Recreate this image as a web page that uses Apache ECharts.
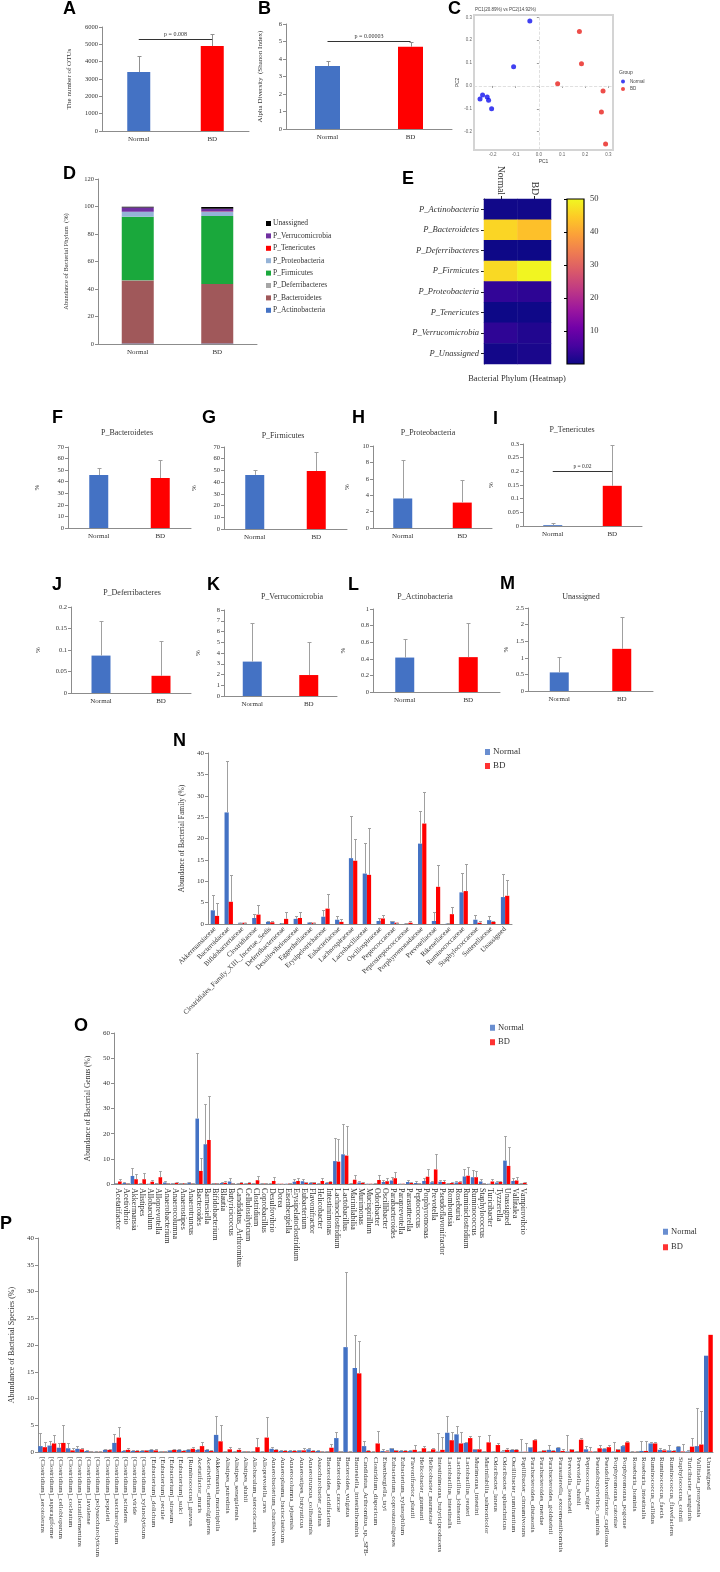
<!DOCTYPE html>
<html><head><meta charset="utf-8">
<script src="https://cdn.jsdelivr.net/npm/echarts@6/dist/echarts.min.js"></script>
<style>html,body{margin:0;padding:0;background:#fff}#c{width:720px;height:1572px}</style>
</head><body><div id="c"></div>
<script>
// ---------------- DATA ----------------
const groups = ['Normal', 'BD'];
const otuMean = [3400, 4900];
const otuSd = [950, 700];
const shannonMean = [3.6, 4.7];
const shannonSd = [0.3, 0.25];

const pcaNormalX = [-0.039, -0.109, -0.254, -0.243, -0.223, -0.217, -0.204];
const pcaNormalY = [0.284, 0.084, -0.057, -0.040, -0.048, -0.063, -0.100];
const pcaBDX = [0.175, 0.184, 0.081, 0.277, 0.270, 0.288];
const pcaBDY = [0.238, 0.097, 0.010, -0.022, -0.114, -0.254];

const phyla = ['P_Actinobacteria', 'P_Bacteroidetes', 'P_Deferribacteres', 'P_Firmicutes', 'P_Proteobacteria', 'P_Tenericutes', 'P_Verrucomicrobia', 'Unassigned'];
const phylumNormal = [0.415, 45.8, 0.087, 46.2, 3.6, 0.003, 3.2, 0.56];
const phylumBD = [0.42, 43.2, 0.04, 49.5, 3.1, 0.147, 1.95, 1.27];
const phylumNormalSd = [0.225, 6.2, 0.081, 4.3, 4.7, 0.009, 3.55, 0.47];
const phylumBDSd = [0.41, 15.3, 0.08, 16.0, 2.7, 0.15, 3.05, 0.95];
const heatRows = ['P_Actinobacteria', 'P_Bacteroidetes', 'P_Deferribacteres', 'P_Firmicutes', 'P_Proteobacteria', 'P_Tenericutes', 'P_Verrucomicrobia', 'P_Unassigned'];

const families = ['Akkermansiaceae', 'Bacteroidaceae', 'Bifidobacteriaceae', 'Clostridiaceae', 'Clostridiales_Family_XIII._Incertae_Sedis', 'Deferribacteraceae', 'Desulfovibrionaceae', 'Eggerthellaceae', 'Erysipelotrichaceae', 'Eubacteriaceae', 'Lachnospiraceae', 'Lactobacillaceae', 'Oscillospiraceae', 'Peptococcaceae', 'Peptostreptococcaceae', 'Porphyromonadaceae', 'Prevotellaceae', 'Rikenellaceae', 'Ruminococcaceae', 'Staphylococcaceae', 'Sutterellaceae', 'Unassigned'];
const famNormal = [3.2, 26.1, 0.3, 1.4, 0.5, 0.2, 1.2, 0.35, 1.7, 1.0, 15.4, 11.8, 0.7, 0.7, 0.1, 18.8, 0.7, 0.1, 7.4, 1.0, 0.9, 6.3];
const famNormalSd = [3.5, 12.0, 0.05, 0.9, 0.3, 0.05, 0.6, 0.05, 1.5, 0.8, 9.8, 7.2, 0.6, 0.1, 0.05, 7.6, 2.1, 0.05, 4.5, 1.0, 0.9, 5.5];
const famBD = [1.9, 5.2, 0.3, 2.2, 0.4, 1.2, 1.4, 0.3, 3.6, 0.5, 14.8, 11.5, 1.3, 0.3, 0.3, 23.5, 8.7, 2.3, 7.7, 0.3, 0.5, 6.6];
const famBDSd = [3.1, 6.3, 0.05, 2.2, 0.3, 1.5, 1.3, 0.05, 3.4, 0.6, 5.2, 11.0, 0.9, 0.05, 0.3, 7.4, 5.0, 1.6, 6.4, 0.3, 0.3, 3.6];

const genera = ['Acetatifactor', 'Acetivibrio', 'Akkermansia', 'Alistipes', 'Allobaculum', 'Alloprevotella', 'Anaerobacterium', 'Anaerocolumna', 'Anaerostipes', 'Anaerotruncus',
  'Bacteroides', 'Barnesiella', 'Bifidobacterium', 'Blautia', 'Butyricicoccus', 'Candidatus_Arthromitus', 'Cellulosilyticum', 'Clostridium', 'Coprobacillus', 'Desulfovibrio',
  'Dorea', 'Eisenbergiella', 'Erysipelatoclostridium', 'Eubacterium', 'Flavonifractor', 'Helicobacter', 'Intestinimonas', 'Lachnoclostridium', 'Lactobacillus', 'Marinilabilia',
  'Murimonas', 'Mucispirillum', 'Odoribacter', 'Oscillibacter', 'Parabacteroides', 'Paraprevotella', 'Parasutterella', 'Peptococcus', 'Porphyromonas', 'Prevotella',
  'Pseudoflavonifractor', 'Romboutsia', 'Roseburia', 'Ruminiclostridium', 'Ruminococcus', 'Staphylococcus', 'Turicibacter', 'Tyzzerella', 'Unassigned', 'Vallitalea',
  'Vampirovibrio'];
const genusNormal = [0.3, 0.4, 3.2, 0.2, 0.1, 0.3, 0.6, 0.3, 0.3, 0.6,
  26.0, 15.8, 0.3, 0.4, 1.0, 0.1, 0.2, 0.3, 0.2, 0.1,
  0.1, 0.1, 0.9, 1.1, 0.5, 0.2, 0.5, 9.1, 11.8, 0.2,
  0.6, 0.1, 0.2, 0.8, 1.4, 0.1, 0.8, 0.4, 1.2, 0.7,
  0.9, 0.3, 0.6, 3.0, 2.7, 1.0, 0.1, 0.6, 9.3, 1.2,
  0.2];
const genusNormalSd = [0.2, 0.2, 3.2, 0.1, 0.05, 0.1, 0.5, 0.2, 0.1, 0.3,
  26.2, 16.0, 0.1, 0.2, 1.2, 0.1, 0.1, 0.2, 0.1, 0.1,
  0.05, 0.05, 0.9, 0.7, 0.2, 0.1, 0.2, 9.1, 12.0, 0.1,
  0.4, 0.05, 0.1, 0.7, 1.4, 0.05, 0.8, 0.6, 1.1, 0.4,
  0.6, 0.1, 0.6, 2.9, 2.9, 1.0, 0.05, 0.6, 9.6, 1.0,
  0.1];
const genusBD = [1.0, 0.2, 1.9, 1.9, 0.9, 2.7, 0.3, 0.5, 0.3, 0.2,
  5.2, 17.5, 0.3, 0.5, 0.3, 0.4, 0.4, 1.5, 0.2, 1.2,
  0.1, 0.2, 1.2, 0.6, 0.6, 1.2, 0.8, 8.9, 11.3, 1.7,
  0.5, 0.1, 1.6, 1.1, 2.3, 0.1, 0.4, 0.2, 2.9, 5.8,
  0.8, 0.4, 0.7, 3.3, 2.7, 0.2, 1.0, 0.8, 7.2, 1.4,
  0.5];
const genusBDSd = [1.0, 0.1, 2.0, 2.4, 0.8, 2.6, 0.2, 0.2, 0.1, 0.1,
  5.1, 17.5, 0.1, 0.6, 0.2, 0.2, 0.2, 1.7, 0.1, 1.5,
  0.05, 0.1, 1.0, 0.3, 0.2, 1.1, 0.4, 9.0, 11.7, 1.9,
  0.3, 0.05, 1.9, 1.2, 2.5, 0.05, 0.5, 0.1, 2.9, 6.0,
  0.6, 0.2, 0.4, 3.4, 2.6, 0.1, 0.9, 0.2, 7.5, 1.5,
  0.3];

const species = ['[Clostridium]_aerotolerans', '[Clostridium]_asparagiforme', '[Clostridium]_cellobioparum', '[Clostridium]_cocleatum', '[Clostridium]_lactatifermentans', '[Clostridium]_lavalense', '[Clostridium]_polysaccharolyticum', '[Clostridium]_populeti', '[Clostridium]_saccharolyticum', '[Clostridium]_scindens',
  '[Clostridium]_viride', '[Clostridium]_xylanolyticum', '[Eubacterium]_dolichum', '[Eubacterium]_rectale', '[Eubacterium]_siraeum', '[Eubacterium]_sulci', '[Ruminococcus]_gnavus', 'Acetatifactor_muris', 'Acetivibrio_ethanolgignens', 'Akkermansia_muciniphila',
  'Alistipes_putredinis', 'Alistipes_senegalensis', 'Alistipes_shahii', 'Allobaculum_stercoricanis', 'Alloprevotella_rava', 'Anaerobacterium_chartisolvens', 'Anaeroplasma_bactoclasticum', 'Anaerocolumna_jejuensis', 'Anaerostipes_butyraticus', 'Anaerotruncus_colihominis',
  'Asaccharobacter_celatus', 'Bacteroides_acidifaciens', 'Bacteroides_caccae', 'Bacteroides_vulgatus', 'Barnesiella_intestinihominis', 'Candidatus_Arthromitus_sp._SFB-', 'Clostridium_disporicum', 'Eisenbergiella_tayi', 'Eubacterium_coprostanoligenes', 'Eubacterium_xylanophilum',
  'Flavonifractor_plautii', 'Helicobacter_ganmani', 'Helicobacter_marmotae', 'Intestinimonas_butyriciproducens', 'Lactobacillus_intestinalis', 'Lactobacillus_johnsonii', 'Lactobacillus_reuteri', 'Murimonas_intestini', 'Marinilabilia_salmonicolor', 'Odoribacter_laneus',
  'Odoribacter_splanchnicus', 'Oscillibacter_ruminantium', 'Papillibacter_cinnamivorans', 'Parabacteroides_distasonis', 'Parabacteroides_merdae', 'Parabacteroides_goldsteinii', 'Parasutterella_excrementihominis', 'Prevotella_loescheii', 'Prevotella_shahii', 'Peptococcus_niger',
  'Pseudobutyrivibrio_ruminis', 'Pseudoflavonifractor_capillosus', 'Porphyromonas_catoniae', 'Porphyromonas_pogonae', 'Roseburia_hominis', 'Roseburia_intestinalis', 'Ruminococcus_callidus', 'Ruminococcus_faecis', 'Ruminococcus_flavefaciens', 'Staphylococcus_cohnii',
  'Turicibacter_sanguinis', 'Vallitalea_pronyensis', 'Unassigned'];
const speciesNormal = [1.1, 1.2, 0.8, 0.7, 0.6, 0.2, 0.05, 0.4, 1.7, 0.2,
  0.2, 0.2, 0.4, 0.1, 0.3, 0.4, 0.4, 0.4, 0.4, 3.2,
  0.1, 0.1, 0.1, 0.1, 0.1, 0.6, 0.2, 0.2, 0.3, 0.5,
  0.2, 0.1, 2.6, 19.6, 15.7, 1.1, 0.05, 0.2, 0.7, 0.2,
  0.2, 0.1, 0.1, 0.1, 3.6, 3.3, 1.7, 0.5, 0.1, 0.1,
  0.1, 0.4, 0.05, 0.9, 0.1, 0.4, 0.8, 0.1, 0.1, 0.5,
  0.1, 0.6, 0.1, 1.1, 0.05, 0.2, 1.6, 0.4, 0.3, 1.0,
  0.1, 1.1, 18.0];
const speciesNormalSd = [2.5, 0.8, 0.8, 0.9, 0.5, 0.1, 0.05, 0.2, 1.7, 0.1,
  0.1, 0.2, 0.2, 0.05, 0.1, 0.1, 0.1, 0.1, 0.2, 3.6,
  0.05, 0.05, 0.05, 0.05, 0.05, 0.4, 0.1, 0.1, 0.1, 0.2,
  0.1, 0.05, 1.2, 14.0, 6.2, 1.0, 0.05, 0.4, 0.1, 0.1,
  0.1, 0.05, 0.05, 3.5, 3.1, 1.5, 0.2, 0.1, 0.05, 0.05,
  0.3, 0.1, 2.35, 0.1, 0.05, 0.9, 0.1, 3.1, 0.05, 0.7,
  0.1, 0.1, 1.8, 0.3, 0.05, 1.8, 0.2, 0.3, 1.1, 0.1,
  0.2, 7.1, 0];
const speciesBD = [0.9, 1.6, 1.7, 0.3, 0.5, 0.1, 0.05, 0.4, 2.7, 0.4,
  0.2, 0.3, 0.3, 0.1, 0.4, 0.2, 0.6, 1.1, 0.2, 2.0,
  0.5, 0.4, 0.1, 0.9, 2.7, 0.4, 0.2, 0.2, 0.3, 0.2,
  0.1, 0.8, 0.1, 0.05, 14.7, 0.2, 1.6, 0.1, 0.3, 0.2,
  0.4, 0.7, 0.5, 0.4, 2.2, 1.6, 2.6, 0.5, 1.8, 1.3,
  0.4, 0.4, 0.05, 2.2, 0.3, 0.2, 0.2, 0.5, 2.3, 0.1,
  0.7, 0.9, 0.5, 1.8, 0.05, 0.2, 1.6, 0.3, 0.2, 0.1,
  1.0, 1.4, 21.9];
const speciesBDSd = [1.0, 1.6, 3.4, 0.4, 0.3, 0.05, 0.05, 0.2, 1.9, 0.3,
  0.1, 0.1, 0.3, 0.05, 0.1, 0.1, 0.4, 0.7, 0.1, 3.0,
  0.5, 0.4, 0.1, 1.8, 3.8, 0.2, 0.1, 0.1, 0.4, 0.1,
  0.05, 0.7, 0.05, 0.05, 6.1, 0.1, 2.3, 0.3, 0.1, 0.1,
  1.0, 0.5, 0.3, 2.4, 1.6, 2.1, 0.4, 2.5, 1.3, 0.3,
  0.4, 0.1, 1.55, 0.3, 0.1, 0.1, 0.4, 0.1, 0.3, 0.8,
  0.6, 0.5, 0.1, 0.2, 0.05, 1.8, 0.3, 0.3, 0.1, 1.4,
  1.6, 6.2, 0];

// ---------------- STYLE ----------------
const SERIF = '"Liberation Serif","Times New Roman",serif';
const SANS = '"Liberation Sans",Arial,sans-serif';
const TXT = '#333333';
const AX = '#8c8c8c';
const ERR = '#a0a0a0';
const C_N = '#4472c4', C_BD = '#ff0000';
const phylumColors = ['#4472c4', '#a0585a', '#a6a6a6', '#1aa83c', '#95b3d7', '#ff0000', '#7030a0', '#000000'];
const PLASMA = ['#0d0887', '#46039f', '#7201a8', '#9c179e', '#bd3786', '#d8576b', '#ed7953', '#fb9f3a', '#fdca26', '#f0f921'];
const plainNum = v => String(Math.round(v * 1e6) / 1e6);

const option = {animation: false, backgroundColor: '#ffffff', grid: [], xAxis: [], yAxis: [], series: [], legend: [], visualMap: [], graphic: []};

function addGrid(r, extra) {
  option.grid.push(Object.assign({left: r[0], top: r[1], width: r[2], height: r[3]}, extra || {}));
  return option.grid.length - 1;
}

function errSeries(gi, means, sds, offset, color, cap) {
  return {
    type: 'custom', xAxisIndex: gi, yAxisIndex: gi, silent: true, z: 3,
    data: means.map((m, i) => [i, m, m + sds[i]]),
    encode: {x: 0, y: [1, 2]},
    renderItem: (params, api) => {
      if (!(api.value(2) > api.value(1))) return null;
      const lo = api.coord([api.value(0), api.value(1)]);
      const hi = api.coord([api.value(0), api.value(2)]);
      const x = Math.round(lo[0] + offset) + 0.5;
      const yt = Math.round(hi[1]) + 0.5;
      return {type: 'group', children: [
        {type: 'line', shape: {x1: x, y1: lo[1], x2: x, y2: yt}, style: {stroke: color, lineWidth: 1}},
        {type: 'line', shape: {x1: x - cap, y1: yt, x2: x + cap, y2: yt}, style: {stroke: color, lineWidth: 1}}
      ]};
    }
  };
}

function valueYAxis(gi, p) {
  return {gridIndex: gi, type: 'value', min: 0, max: p.max, interval: p.interval,
    splitLine: {show: false}, axisLine: {show: true, lineStyle: {color: AX}},
    axisTick: {show: true, length: 3, lineStyle: {color: AX}},
    axisLabel: {fontFamily: SERIF, fontSize: p.tickFs || 6.5, color: TXT, margin: 4, formatter: plainNum},
    name: p.yName, nameLocation: 'middle', nameGap: p.nameGap, nameRotate: 90,
    nameTextStyle: {fontFamily: SERIF, fontSize: p.nameFs || 7, color: TXT}};
}

function twoBar(p) {
  const gi = addGrid(p.rect);
  option.xAxis.push({gridIndex: gi, type: 'category', data: groups,
    axisLine: {lineStyle: {color: AX}}, axisTick: {length: 3, lineStyle: {color: AX}},
    axisLabel: {fontFamily: SERIF, fontSize: p.catFs || 7, color: TXT, margin: p.catMargin || 5}});
  option.yAxis.push(valueYAxis(gi, p));
  const bar = {type: 'bar', xAxisIndex: gi, yAxisIndex: gi, barWidth: p.barWidth,
    data: p.means.map((v, i) => ({value: v, itemStyle: {color: [C_N, C_BD][i]}}))};
  if (p.pval) {
    bar.markLine = {silent: true, symbol: 'none', animation: false,
      lineStyle: {color: '#333', width: 1, type: 'solid'},
      label: {show: true, position: 'middle', formatter: p.pval, fontFamily: SERIF, fontSize: p.pFs || 6, color: TXT, distance: 2},
      data: [[{coord: ['Normal', p.pY]}, {coord: ['BD', p.pY]}]]};
  }
  option.series.push(bar);
  option.series.push(errSeries(gi, p.means, p.sds, 0, p.errColor || ERR, p.cap || 2));
}

function groupBar(p) {
  const gi = addGrid(p.rect);
  option.xAxis.push({gridIndex: gi, type: 'category', data: p.cats,
    axisLine: {lineStyle: {color: AX}}, axisTick: {length: 3, lineStyle: {color: AX}},
    axisLabel: {interval: 0, rotate: p.rotate, fontFamily: SERIF, fontSize: p.catFs, color: TXT, margin: p.catMargin}});
  option.yAxis.push(valueYAxis(gi, p));
  option.series.push({type: 'bar', name: 'Normal', xAxisIndex: gi, yAxisIndex: gi, data: p.n, barWidth: p.bw, barGap: '0%', itemStyle: {color: C_N}});
  option.series.push({type: 'bar', name: 'BD', xAxisIndex: gi, yAxisIndex: gi, data: p.bd, barWidth: p.bw, barGap: '0%', itemStyle: {color: C_BD}});
  option.series.push(errSeries(gi, p.n, p.nSd, -p.bw / 2, ERR, p.cap));
  option.series.push(errSeries(gi, p.bd, p.bdSd, p.bw / 2, ERR, p.cap));
  option.legend.push({orient: 'vertical', left: p.leg[0], top: p.leg[1], itemWidth: 5, itemHeight: 6, itemGap: p.legGap,
    icon: 'rect', selectedMode: false, padding: 0,
    textStyle: {fontFamily: SERIF, fontSize: p.legFs, color: TXT, lineHeight: p.legFs + 1, padding: [0, 0, 0, -2]},
    data: [{name: 'Normal', itemStyle: {color: C_N}}, {name: 'BD', itemStyle: {color: C_BD}}]});
}

// ---------- A ----------
twoBar({rect: [102, 27, 147, 104], max: 6000, interval: 1000, means: otuMean, sds: otuSd,
  yName: 'The number of OTUs', nameGap: 29, barWidth: 23, pval: 'p = 0.008', pY: 5300, errColor: '#909090'});
// ---------- B ----------
twoBar({rect: [286, 24, 166, 105], max: 6, interval: 1, means: shannonMean, sds: shannonSd,
  yName: 'Alpha Diversity  (Shanon Index)', nameGap: 22, barWidth: 25, pval: 'p = 0.00003', pY: 5.0, errColor: '#909090'});

// ---------- C (PCA) ----------
(function () {
  const gi = addGrid([474, 15, 139, 135], {show: true, borderColor: '#d4d4d4', borderWidth: 2, backgroundColor: '#ffffff'});
  const lab = {fontFamily: SANS, fontSize: 4.5, color: '#666', margin: 2, showMinLabel: false, showMaxLabel: false, formatter: v => v.toFixed(1)};
  option.xAxis.push({gridIndex: gi, type: 'value', min: -0.28, max: 0.32, splitLine: {show: false},
    axisLine: {show: false}, axisTick: {show: true, length: 2, lineStyle: {color: '#999'}}, axisLabel: lab,
    name: 'PC1', nameLocation: 'middle', nameGap: 9, nameTextStyle: {fontFamily: SANS, fontSize: 5, color: '#444'}});
  option.yAxis.push({gridIndex: gi, type: 'value', min: -0.28, max: 0.31, splitLine: {show: false},
    axisLine: {show: false}, axisTick: {show: true, length: 2, lineStyle: {color: '#999'}}, axisLabel: lab,
    name: 'PC2', nameLocation: 'middle', nameGap: 12, nameRotate: 90, nameTextStyle: {fontFamily: SANS, fontSize: 5, color: '#444'}});
  option.series.push({type: 'scatter', name: 'Normal', xAxisIndex: gi, yAxisIndex: gi, symbolSize: 5,
    itemStyle: {color: '#1010ee'}, data: pcaNormalX.map((x, i) => [x, pcaNormalY[i]]),
    markLine: {silent: true, symbol: 'none', label: {show: false}, lineStyle: {type: 'dashed', color: '#d8d8d8', width: 0.8},
      data: [{xAxis: 0}, {yAxis: 0}]}});
  option.series.push({type: 'scatter', name: 'BD', xAxisIndex: gi, yAxisIndex: gi, symbolSize: 5,
    itemStyle: {color: '#e8201c'}, data: pcaBDX.map((x, i) => [x, pcaBDY[i]])});
  option.legend.push({orient: 'vertical', left: 621, top: 79, itemWidth: 4, itemHeight: 4, itemGap: 2.5, icon: 'circle',
    selectedMode: false, padding: 0, textStyle: {fontFamily: SANS, fontSize: 4.5, color: '#444', lineHeight: 5},
    data: [{name: 'Normal', itemStyle: {color: '#1010ee'}}, {name: 'BD', itemStyle: {color: '#e8201c'}}]});
})();

// ---------- D (stacked phylum) ----------
(function () {
  const gi = addGrid([98, 179, 159, 165]);
  option.xAxis.push({gridIndex: gi, type: 'category', data: groups,
    axisLine: {lineStyle: {color: AX}}, axisTick: {length: 3, lineStyle: {color: AX}},
    axisLabel: {fontFamily: SERIF, fontSize: 7, color: TXT, margin: 5}});
  option.yAxis.push(valueYAxis(gi, {max: 120, interval: 20, yName: 'Abundance of Bacterial Phylum  (%)', nameGap: 28, tickFs: 6.5, nameFs: 6.5}));
  phyla.forEach((ph, k) => {
    option.series.push({type: 'bar', name: ph, stack: 'phylum', xAxisIndex: gi, yAxisIndex: gi, barWidth: 32,
      itemStyle: {color: phylumColors[k]}, data: [phylumNormal[k], phylumBD[k]]});
  });
  option.legend.push({orient: 'vertical', left: 266, top: 219, itemWidth: 5, itemHeight: 5, itemGap: 3.4, icon: 'rect',
    selectedMode: false, padding: 0, textStyle: {fontFamily: SERIF, fontSize: 7.5, color: TXT, lineHeight: 9, padding: [0, 0, 0, -3]},
    data: phyla.slice().reverse()});
})();

// ---------- E (heatmap) ----------
(function () {
  const gi = addGrid([484, 199, 67, 165]);
  option.xAxis.push({gridIndex: gi, type: 'category', data: groups, position: 'top',
    axisLine: {show: true, lineStyle: {color: '#222'}}, axisTick: {show: true, alignWithLabel: true, length: 3, lineStyle: {color: '#222'}},
    axisLabel: {rotate: 90, fontFamily: SERIF, fontSize: 9.5, color: TXT, margin: 4}, splitLine: {show: false}});
  option.yAxis.push({gridIndex: gi, type: 'category', data: heatRows, inverse: true,
    axisLine: {show: true, lineStyle: {color: '#222'}}, axisTick: {show: true, alignWithLabel: true, length: 3, lineStyle: {color: '#222'}},
    axisLabel: {fontFamily: SERIF, fontStyle: 'italic', fontSize: 8.5, color: TXT, margin: 5}});
  const data = [];
  heatRows.forEach((r, i) => { data.push([0, i, phylumNormal[i]]); data.push([1, i, phylumBD[i]]); });
  const si = option.series.length;
  option.series.push({type: 'heatmap', xAxisIndex: gi, yAxisIndex: gi, data: data, itemStyle: {borderWidth: 0}});
  option.visualMap.push({show: false, type: 'continuous', min: 0, max: 50, seriesIndex: si, inRange: {color: PLASMA}});

  // colour bar
  const gc = addGrid([567, 199, 17, 165]);
  option.xAxis.push({gridIndex: gc, type: 'value', min: 0, max: 1, show: false});
  option.yAxis.push({gridIndex: gc, type: 'value', min: 0, max: 50, interval: 10, position: 'right',
    splitLine: {show: false}, axisLine: {show: false},
    axisTick: {show: true, inside: true, length: 3, lineStyle: {color: '#000'}},
    axisLabel: {showMinLabel: false, fontFamily: SERIF, fontSize: 8.5, color: TXT, margin: 6}});
  option.series.push({type: 'custom', xAxisIndex: gc, yAxisIndex: gc, z: -1, silent: true,
    data: [[0, 1, 0, 50]], encode: {x: [0, 1], y: [2, 3]},
    renderItem: (params, api) => {
      const p0 = api.coord([api.value(0), api.value(2)]);
      const p1 = api.coord([api.value(1), api.value(3)]);
      return {type: 'rect', shape: {x: p0[0], y: p1[1], width: p1[0] - p0[0], height: p0[1] - p1[1]},
        style: {fill: new echarts.graphic.LinearGradient(0, 1, 0, 0, PLASMA.map((c, i) => ({offset: i / (PLASMA.length - 1), color: c}))),
          stroke: '#000', lineWidth: 1.2}};
    }});
})();

// ---------- F - M ----------
const small = [
  {k: 1, title: 'P_Bacteroidetes', rect: [68, 447, 123, 81], max: 70, interval: 10, nameGap: 27, t: [127, 433]},
  {k: 3, title: 'P_Firmicutes', rect: [224, 447, 123, 82], max: 70, interval: 10, nameGap: 26, t: [283, 436]},
  {k: 4, title: 'P_Proteobacteria', rect: [373, 446, 119, 82], max: 10, interval: 2, nameGap: 22, t: [428, 433]},
  {k: 5, title: 'P_Tenericutes', rect: [523, 444, 119, 82], max: 0.3, interval: 0.05, nameGap: 28, t: [572, 430], pval: 'p = 0.02', pY: 0.2},
  {k: 2, title: 'P_Deferribacteres', rect: [71, 607, 120, 86], max: 0.2, interval: 0.05, nameGap: 29, t: [132, 593]},
  {k: 6, title: 'P_Verrucomicrobia', rect: [224, 610, 113, 86], max: 8, interval: 1, nameGap: 22, t: [292, 597]},
  {k: 0, title: 'P_Actinobacteria', rect: [373, 609, 127, 83], max: 1, interval: 0.2, nameGap: 26, t: [425, 597]},
  {k: 7, title: 'Unassigned', rect: [528, 608, 125, 83], max: 2.5, interval: 0.5, nameGap: 18, t: [581, 597]}
];
small.forEach(s => {
  twoBar({rect: s.rect, max: s.max, interval: s.interval, means: [phylumNormal[s.k], phylumBD[s.k]], sds: [phylumNormalSd[s.k], phylumBDSd[s.k]],
    yName: '%', nameGap: s.nameGap, barWidth: 19, pval: s.pval, pY: s.pY, tickFs: 6.5, catFs: 7, cap: 2, pFs: 5.5});
  option.graphic.push({type: 'text', x: s.t[0], y: s.t[1], silent: true,
    style: {text: s.title, font: '8px ' + SERIF, fill: TXT, align: 'center', verticalAlign: 'middle', textAlign: 'center', textVerticalAlign: 'middle'}});
});

// ---------- N ----------
groupBar({rect: [208, 753, 304, 171], cats: families, rotate: 45, catFs: 7, catMargin: 4, max: 40, interval: 5,
  n: famNormal, nSd: famNormalSd, bd: famBD, bdSd: famBDSd, bw: 4.2, cap: 1.5,
  yName: 'Abundance of Bacterial Family (%)', nameGap: 22, nameFs: 7.5, tickFs: 7,
  leg: [485, 747], legGap: 4, legFs: 9});
// ---------- O ----------
groupBar({rect: [114, 1033, 413, 151], cats: genera, rotate: -90, catFs: 8, catMargin: 4, max: 60, interval: 10,
  n: genusNormal, nSd: genusNormalSd, bd: genusBD, bdSd: genusBDSd, bw: 3.6, cap: 1.3,
  yName: 'Abundance of Bacterial Genus (%)', nameGap: 18, nameFs: 7.5, tickFs: 7,
  leg: [490, 1023], legGap: 5, legFs: 8.5});
// ---------- P ----------
groupBar({rect: [36, 1238, 677, 214], cats: species, rotate: -90, catFs: 7, catMargin: 5, max: 40, interval: 5,
  n: speciesNormal, nSd: speciesNormalSd, bd: speciesBD, bdSd: speciesBDSd, bw: 4.4, cap: 1.4,
  yName: 'Abundance of Bacterial Species (%)', nameGap: 22, nameFs: 8, tickFs: 7,
  leg: [663, 1227], legGap: 6, legFs: 8.5});

// ---------- panel letters & titles ----------
const letters = [['A', 63, 0], ['B', 258, 0], ['C', 448, 0], ['D', 63, 165], ['E', 402, 170], ['F', 52, 409], ['G', 202, 409], ['H', 352, 409],
  ['I', 493, 410], ['J', 52, 576], ['K', 207, 576], ['L', 348, 576], ['M', 500, 575], ['N', 173, 732], ['O', 74, 1017], ['P', 0, 1215]];
letters.forEach(l => option.graphic.push({type: 'text', x: l[1], y: l[2], silent: true,
  style: {text: l[0], font: 'bold 18px ' + SANS, fill: '#000', align: 'left', verticalAlign: 'top', textAlign: 'left', textVerticalAlign: 'top'}}));
option.graphic.push({type: 'text', x: 517, y: 379, silent: true,
  style: {text: 'Bacterial Phylum (Heatmap)', font: '8.5px ' + SERIF, fill: TXT, align: 'center', verticalAlign: 'middle', textAlign: 'center', textVerticalAlign: 'middle'}});
option.graphic.push({type: 'text', x: 475, y: 10, silent: true,
  style: {text: 'PC1(20.89%) vs PC2(14.92%)', font: '4.5px ' + SANS, fill: '#444', align: 'left', verticalAlign: 'middle', textAlign: 'left', textVerticalAlign: 'middle'}});
option.graphic.push({type: 'text', x: 619, y: 73, silent: true,
  style: {text: 'Group', font: '5px ' + SANS, fill: '#444', align: 'left', verticalAlign: 'middle', textAlign: 'left', textVerticalAlign: 'middle'}});

const chart = echarts.init(document.getElementById('c'), null, {renderer: 'canvas', width: 720, height: 1572});
chart.setOption(option);
</script>
</body></html>
